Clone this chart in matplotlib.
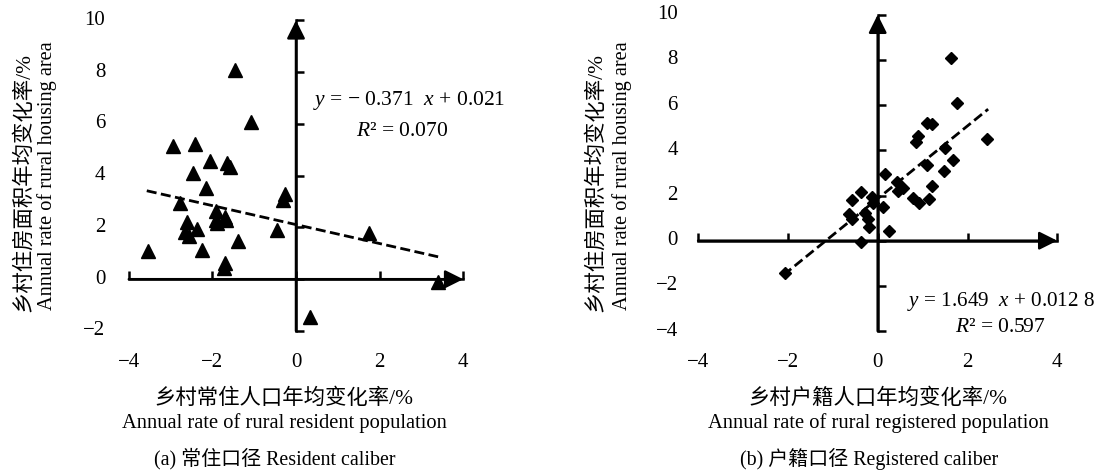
import numpy as np
import matplotlib
matplotlib.use('Agg')
import matplotlib.pyplot as plt

plt.rcParams['font.family'] = ['Liberation Serif', 'Noto Sans CJK SC']
plt.rcParams['mathtext.fontset'] = 'custom'
plt.rcParams['mathtext.rm'] = 'Liberation Serif'
plt.rcParams['mathtext.it'] = 'Liberation Serif:italic'
plt.rcParams['axes.unicode_minus'] = True

# (a) 常住口径 -- x: 乡村常住人口年均变化率, y: 乡村住房面积年均变化率
res_x = [-1.46, -1.08, -2.95, -2.41, -2.06, -1.66, -1.58, -2.47, -2.15, -0.26,
         -0.32, -2.78, -1.92, -1.91, -1.70, -1.67, -1.89, -2.60, -2.37, -2.65,
         -2.56, -0.46, -1.39, -2.25, -3.53, -1.70, -1.73, 1.74, 3.39, 0.33]
res_y = [8.08, 6.08, 5.16, 5.21, 4.58, 4.48, 4.33, 4.09, 3.54, 3.30,
         3.06, 2.93, 2.63, 2.29, 2.42, 2.27, 2.16, 2.22, 1.93, 1.84,
         1.65, 1.89, 1.49, 1.12, 1.10, 0.64, 0.42, 1.80, -0.09, -1.44]
res_fit = [-0.366, 2.11]      # slope, intercept of dashed trend line
res_fit_x = [-3.57, 3.40]
res_eq = '$y$ = − 0.371  $x$ + 0.021'
res_r2 = '$R$² = 0.070'

# (b) 户籍口径 -- x: 乡村户籍人口年均变化率
reg_x = [1.63, 1.77, 1.09, 1.22, 0.89, 0.85, 2.43, 1.50, 1.67, 1.09,
         1.48, 0.16, 0.42, 0.56, 0.46, 1.20, -0.38, -0.58, -0.13, -0.10,
         0.78, 0.93, 1.15, 0.12, -0.63, -0.58, -0.28, -0.21, -0.19, 0.25,
         -0.38, -2.06]
reg_y = [8.07, 6.11, 5.22, 5.15, 4.63, 4.38, 4.49, 4.12, 3.57, 3.35,
         3.08, 2.95, 2.61, 2.32, 2.20, 2.42, 2.17, 1.80, 1.95, 1.68,
         1.87, 1.65, 1.83, 1.50, 1.18, 0.95, 1.21, 0.95, 0.62, 0.44,
         -0.04, -1.44]
reg_fit = [1.61, 1.86]
reg_fit_x = [-2.10, 2.46]
reg_eq = '$y$ = 1.649  $x$ + 0.012 8'
reg_r2 = '$R$² = 0.597'

xticks = [-4, -2, 0, 2, 4]
yticks_a = [-2, 0, 2, 4, 6, 8, 10]
yticks_b = [-4, -2, 0, 2, 4, 6, 8, 10]

ylab_cn = '乡村住房面积年均变化率/%'
ylab_en = 'Annual rate of rural housing area'
xlab_cn_a = '乡村常住人口年均变化率/%'
xlab_en_a = 'Annual rate of rural resident population'
cap_a = '(a) 常住口径 Resident caliber'
xlab_cn_b = '乡村户籍人口年均变化率/%'
xlab_en_b = 'Annual rate of rural registered population'
cap_b = '(b) 户籍口径 Registered caliber'

W, H = 1099, 471
fig = plt.figure(figsize=(W / 100, H / 100), dpi=100)


def box(x0, y0, x1, y1):
    # pixel box (top-left origin) -> figure fraction rect
    return [x0 / W, 1 - y1 / H, (x1 - x0) / W, (y1 - y0) / H]


def fmt(v):
    return str(v).replace('-', '\u2212')


def setup(ax, ylim, yticks, ypad):
    ax.set_xlim(-4, 4)
    ax.set_ylim(*ylim)
    ax.patch.set_visible(False)
    for s in ['top', 'right']:
        ax.spines[s].set_visible(False)
    ax.spines['left'].set_position(('data', 0))
    ax.spines['bottom'].set_position(('data', 0))
    for s in ['left', 'bottom']:
        ax.spines[s].set_linewidth(1.8)
    ax.set_xticks(xticks)
    ax.set_yticks(yticks)
    ax.tick_params(direction='in', length=5.5, width=1.8,
                   labelleft=False, labelbottom=False)
    # arrow heads
    st = '-|>,head_length=1.1,head_width=0.55'
    ax.annotate('', xy=(4, 0), xytext=(-4, 0), annotation_clip=False,
                arrowprops=dict(arrowstyle=st, mutation_scale=10, lw=1.8,
                                color='black', shrinkA=0, shrinkB=0))
    ax.annotate('', xy=(0, ylim[1]), xytext=(0, ylim[0]), annotation_clip=False,
                arrowprops=dict(arrowstyle=st, mutation_scale=10, lw=1.8,
                                color='black', shrinkA=0, shrinkB=0))
    # tick labels kept "low", as in Excel
    for v in yticks:
        ax.annotate(fmt(v), xy=(0, v), xycoords=('axes fraction', 'data'),
                    xytext=(-ypad, 0), textcoords='offset points',
                    ha='right', va='center', fontsize=15)
    for v in xticks:
        ax.annotate(fmt(v), xy=(v, 0), xycoords=('data', 'axes fraction'),
                    xytext=(0, -22.5), textcoords='offset points',
                    ha='center', va='center', fontsize=15)


ax_a = fig.add_axes(box(128.8, 20.3, 463.2, 331))
ax_b = fig.add_axes(box(698.1, 14.7, 1057.3, 331.1))
setup(ax_a, (-2, 10), yticks_a, 17)
setup(ax_b, (-4, 10), yticks_b, 14.5)

ax_a.plot(res_x, res_y, '^', color='black', ms=9.5, clip_on=False, zorder=4)
xs = np.array(res_fit_x)
ax_a.plot(xs, res_fit[0] * xs + res_fit[1], color='black', lw=2,
          dashes=(3.6, 1.6), zorder=3)

ax_b.plot(reg_x, reg_y, 'D', color='black', ms=6.4, clip_on=False, zorder=4)
xs = np.array(reg_fit_x)
ax_b.plot(xs, reg_fit[0] * xs + reg_fit[1], color='black', lw=2,
          dashes=(3.6, 1.6), zorder=3)

# equations
fig.text(409 / W, 1 - 100 / H, res_eq, ha='center', va='center', fontsize=15.5)
fig.text(402 / W, 1 - 131.7 / H, res_r2, ha='center', va='center', fontsize=15.5)
fig.text(1001 / W, 1 - 301.7 / H, reg_eq, ha='center', va='center', fontsize=15.2)
fig.text(1000 / W, 1 - 328 / H, reg_r2, ha='center', va='center', fontsize=15.5)

# y labels
for xc, xe in [(24, 47), (596, 622)]:
    fig.text(xc / W, 1 - 182 / H, ylab_cn, rotation=90, ha='center',
             va='center', fontsize=15.4)
    fig.text(xe / W, 1 - 176 / H, ylab_en, rotation=90, ha='center',
             va='center', fontsize=14.6)

# x labels and captions
for xc, cn, en, cap in [(284, xlab_cn_a, xlab_en_a, cap_a),
                        (878, xlab_cn_b, xlab_en_b, cap_b)]:
    fig.text(xc / W, 1 - 399 / H, cn, ha='center', va='center', fontsize=15.4)
    fig.text(xc / W, 1 - 423 / H, en, ha='center', va='center', fontsize=14.8)
    fig.text((xc - 9) / W, 1 - 459 / H, cap, ha='center', va='center',
             fontsize=14.4)

fig.savefig('out.png', dpi=100)
